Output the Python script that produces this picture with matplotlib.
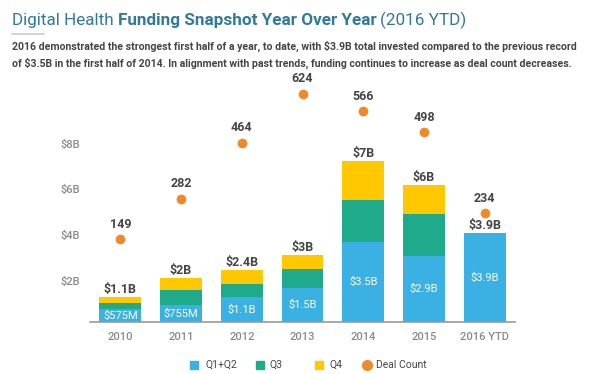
import matplotlib
matplotlib.use("Agg")
import matplotlib.pyplot as plt
from matplotlib.lines import Line2D
from matplotlib.patches import Rectangle
import numpy as np

years = ["2010", "2011", "2012", "2013", "2014", "2015", "2016 YTD"]
q1q2 = [0.575, 0.755, 1.1, 1.5, 3.5, 2.9, 3.9]
q3 = [0.24, 0.66, 0.56, 0.82, 1.86, 1.82, 0.0]
q4 = [0.26, 0.50, 0.62, 0.62, 1.70, 1.30, 0.0]
totals_lbl = ["$1.1B", "$2B", "$2.4B", "$3B", "$7B", "$6B", "$3.9B"]
q1q2_lbl = ["$575M", "$755M", "$1.1B", "$1.5B", "$3.5B", "$2.9B", "$3.9B"]
deals = [149, 282, 464, 624, 566, 498, 234]
yticks = [2, 4, 6, 8]
ytick_lbl = ["$2B", "$4B", "$6B", "$8B"]
legend_lbl = ["Q1+Q2", "Q3", "Q4", "Deal Count"]

C_BLUE = "#3BB0E3"
C_GREEN = "#1FAA8C"
C_YEL = "#FFC800"
C_ORG = "#F0892A"
C_TXT = "#454545"
C_GREY = "#8a8a8a"
C_TITLE = "#2E7B9C"
FONT = "Roboto"

plt.rcParams["font.family"] = [FONT, "DejaVu Sans"]

fig = plt.figure(figsize=(6.0, 3.74), dpi=100)
W, H = 600, 374
ax_l, ax_r, ax_t, ax_b = 90, 515, 82, 322
ax = fig.add_axes([ax_l / W, 1 - ax_b / H, (ax_r - ax_l) / W, (ax_b - ax_t) / H])

x = np.arange(len(years))
bw = 0.69
b1 = np.array(q1q2)
b2 = np.array(q3)
b3 = np.array(q4)
ax.bar(x, b1, bw, color=C_BLUE, zorder=2)
ax.bar(x, b2, bw, bottom=b1, color=C_GREEN, zorder=2)
ax.bar(x, b3, bw, bottom=b1 + b2, color=C_YEL, zorder=2)

ax.set_xlim(-0.5, 6.5)
ax.set_ylim(0, (ax_b - ax_t) / 22.8)
for s in ["top", "right", "left"]:
    ax.spines[s].set_visible(False)
ax.spines["bottom"].set_color("#9a9a9a")
ax.spines["bottom"].set_linewidth(1.2)
ax.set_yticks(yticks)
ax.set_yticklabels(ytick_lbl, color=C_GREY, fontsize=8, fontweight="medium")
ax.tick_params(axis="y", length=0, pad=7)
ax.set_xticks(x)
ax.set_xticklabels(years, color=C_GREY, fontsize=8, fontweight="medium")
ax.tick_params(axis="x", length=0, pad=7)
for lbl in ax.get_yticklabels():
    lbl.set_va("top")

tops = b1 + b2 + b3
for i in range(len(years)):
    ax.text(x[i], tops[i] + 0.05, totals_lbl[i], ha="center", va="bottom",
            fontsize=9, fontweight="bold", color=C_TXT)
    ax.text(x[i], b1[i] / 2, q1q2_lbl[i], ha="center", va="center",
            fontsize=8, color="white")

ax2 = ax.twinx()
ax2.set_ylim((285.1 - ax_b) / 0.307, (285.1 - ax_t) / 0.307)
ax2.axis("off")
ax2.scatter(x, deals, s=36, color=C_ORG, zorder=3)
for i in range(len(years)):
    ax2.annotate(str(deals[i]), (x[i], deals[i]), xytext=(0, 6), textcoords="offset points",
                 ha="center", va="bottom", fontsize=9, fontweight="bold", color=C_TXT)

# title
TS = 12.3
t1 = fig.text(12 / W, 1 - 20 / H, "Digital Health ", fontsize=TS, color=C_TITLE, va="center", ha="left")
fig.canvas.draw()
r = fig.canvas.get_renderer()
bb = t1.get_window_extent(r)
t2 = fig.text(bb.x1 / W, 1 - 20 / H, "Funding Snapshot Year Over Year", fontsize=TS,
              color=C_TITLE, fontweight="bold", va="center", ha="left")
bb2 = t2.get_window_extent(r)
fig.text(bb2.x1 / W + 3.5 / W, 1 - 20 / H, "(2016 YTD)", fontsize=TS, color=C_TITLE,
         va="center", ha="left")
fig.add_artist(Line2D([12 / W, 44 / W], [1 - 34 / H, 1 - 34 / H], color="#cccccc", lw=1.2))

sub1 = "2016 demonstrated the strongest first half of a year, to date, with $3.9B total invested compared to the previous record"
sub2 = "of $3.5B in the first half of 2014. In alignment with past trends, funding continues to increase as deal count decreases."
fig.text(12 / W, 1 - 46 / H, sub1, fontsize=7.6, fontweight="bold", color=C_TXT, va="center", ha="left")
fig.text(12 / W, 1 - 63 / H, sub2, fontsize=7.6, fontweight="bold", color=C_TXT, va="center", ha="left")

# legend (manual placement)
ly = 1 - 365 / H
sq = 8
mark_x = [190, 256, 315, 362]
text_x = [205, 270, 329, 376]
cols = [C_BLUE, C_GREEN, C_YEL, C_ORG]
for i in range(4):
    if i < 3:
        fig.add_artist(Rectangle((mark_x[i] / W, ly - sq / 2 / H), sq / W, sq / H,
                                 color=cols[i], transform=fig.transFigure))
    else:
        fig.add_artist(Line2D([(mark_x[i] + 4.5) / W], [ly], marker="o", ls="",
                              color=cols[i], markersize=7, transform=fig.transFigure))
    fig.text(text_x[i] / W, ly, legend_lbl[i], fontsize=7.5, color=C_TXT,
             va="center", ha="left")

fig.savefig("out.png", dpi=100)
